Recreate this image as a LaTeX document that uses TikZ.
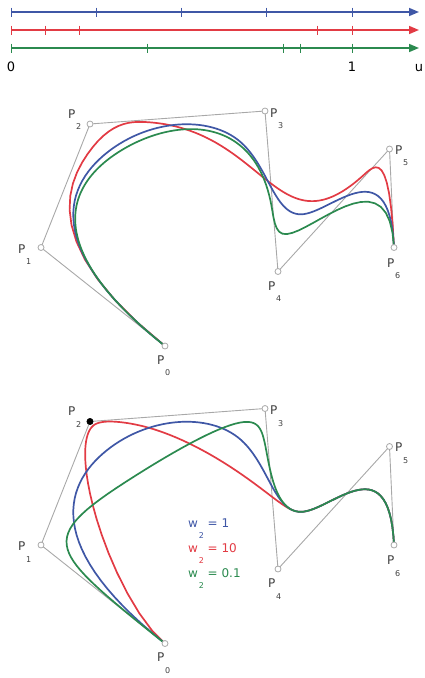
\documentclass[tikz,border=0pt]{standalone}
\usepackage{fontspec}
\setmainfont{DejaVu Sans}
\usepackage{tikz}
\usetikzlibrary{arrows.meta}
\definecolor{knotblue}{HTML}{3F57A6}
\definecolor{knotred}{HTML}{E23B44}
\definecolor{knotgreen}{HTML}{2B8A4F}
\definecolor{polygray}{HTML}{A8A8A8}

\newcommand\sub[1]{\kern0.8pt\raisebox{-11.5pt}{\fontsize{8}{9}\selectfont #1}}

% control polygon in pixels, y pointing down
\def\ptx{{165,41,90,265,278,389.5,394}}
\def\pty{{346,247.5,124,111,271.5,149,247.5}}
\def\wts{{1,1,\wtwo,1,1,1,1}}
\def\knots{{0,0,0,0,\ka,\kb,\kc,1,1,1,1}}

\newcommand\getpt[2]{%
  \pgfmathsetmacro\ww{\wts[#2]}%
  \pgfmathsetmacro\tx{\ptx[#2]}%
  \pgfmathsetmacro\ty{\pty[#2]}%
  \expandafter\pgfmathsetmacro\csname X#1\endcsname{\ww*\tx}%
  \expandafter\pgfmathsetmacro\csname Y#1\endcsname{\ww*\ty}%
  \expandafter\let\csname W#1\endcsname\ww}

\newcommand\mixpt[3]{%
  \pgfmathsetmacro\al{#1}%
  \edef\next{%
    \noexpand\pgfmathsetmacro\expandafter\noexpand\csname X#3\endcsname
      {(1-\al)*\csname X#2\endcsname+\al*\csname X#3\endcsname}%
    \noexpand\pgfmathsetmacro\expandafter\noexpand\csname Y#3\endcsname
      {(1-\al)*\csname Y#2\endcsname+\al*\csname Y#3\endcsname}%
    \noexpand\pgfmathsetmacro\expandafter\noexpand\csname W#3\endcsname
      {(1-\al)*\csname W#2\endcsname+\al*\csname W#3\endcsname}%
  }\next}

% cubic de Boor, homogeneous coordinates
\newcommand\deboor[1]{%
  \pgfmathsetmacro\uu{#1}%
  \pgfmathtruncatemacro\kk{3+(\uu>=\ka)+(\uu>=\kb)+(\uu>=\kc)}%
  \pgfmathsetmacro\sA{\knots[\kk-2]}%
  \pgfmathsetmacro\sB{\knots[\kk-1]}%
  \pgfmathsetmacro\sC{\knots[\kk]}%
  \pgfmathsetmacro\sD{\knots[\kk+1]}%
  \pgfmathsetmacro\sE{\knots[\kk+2]}%
  \pgfmathsetmacro\sF{\knots[\kk+3]}%
  \getpt{a}{\kk-3}\getpt{b}{\kk-2}\getpt{c}{\kk-1}\getpt{d}{\kk}%
  \mixpt{(\uu-\sC)/(\sF-\sC)}{c}{d}%
  \mixpt{(\uu-\sB)/(\sE-\sB)}{b}{c}%
  \mixpt{(\uu-\sA)/(\sD-\sA)}{a}{b}%
  \mixpt{(\uu-\sC)/(\sE-\sC)}{c}{d}%
  \mixpt{(\uu-\sB)/(\sD-\sB)}{b}{c}%
  \mixpt{(\uu-\sC)/(\sD-\sC)}{c}{d}%
  \pgfmathsetmacro\bx{\Xd/\Wd}%
  \pgfmathsetmacro\by{\Yd/\Wd}}

\newcommand\drawspline[6]{% name, colour, knots a b c, w2
  \def\ka{#3}\def\kb{#4}\def\kc{#5}\def\wtwo{#6}%
  \foreach \i in {0,...,120}{%
    \deboor{\i/120}%
    \coordinate (#1\i) at (\bx,\by);
  }
  \draw[curve,#2] (#10) \foreach \i in {1,...,120}{ -- (#1\i)};
}

\begin{document}
\begin{tikzpicture}[x=1pt,y=-1pt,
    axisline/.style={line width=1.6pt,-{Triangle[length=10pt,width=8pt]}},
    knottick/.style={line width=1pt},
    curve/.style={line width=1.7pt,line join=round},
    poly/.style={polygray,line width=0.9pt},
    cpt/.style={circle,draw=polygray,fill=white,line width=0.8pt,minimum size=6pt,inner sep=0pt},
    ptlbl/.style={anchor=base west,inner sep=0pt,font=\fontsize{12}{14}\selectfont,text=black!75},
    wlbl/.style={anchor=base west,inner sep=0pt,font=\fontsize{12}{14}\selectfont}]
  \useasboundingbox (0,0) rectangle (425,678);

  % knot vectors
  \coordinate (ub) at (11,12);  \coordinate (ubend) at (419,12);
  \coordinate (ur) at (11,30);  \coordinate (urend) at (419,30);
  \coordinate (ug) at (11,48);  \coordinate (ugend) at (419,48);
  \draw[axisline,knotblue] (ub) -- (ubend);
  \draw[axisline,knotred] (ur) -- (urend);
  \draw[axisline,knotgreen] (ug) -- (ugend);
  \foreach \t in {0,0.25,0.5,0.75,1}
    \draw[knottick,knotblue] ([shift={(341*\t,-4.5)}]ub) -- ++(0,9);
  \foreach \t in {0,0.1,0.2,0.9,1}
    \draw[knottick,knotred] ([shift={(341*\t,-4.5)}]ur) -- ++(0,9);
  \foreach \t in {0,0.4,0.8,0.85,1}
    \draw[knottick,knotgreen] ([shift={(341*\t,-4.5)}]ug) -- ++(0,9);
  \node[anchor=base,font=\fontsize{13}{15}\selectfont] (lzero) at (11,71) {0};
  \node[anchor=base,font=\fontsize{13}{15}\selectfont] (lone) at (352,71) {1};
  \node[anchor=base,font=\fontsize{13}{15}\selectfont] (lu) at (419,71) {u};

  % B-splines with different knot vectors
  \draw[poly] (165,346) -- (41,247.5) -- (90,124) -- (265,111) -- (278,271.5) -- (389.5,149) -- (394,247.5);
  \drawspline{mr}{knotred}{0.1}{0.2}{0.9}{1}
  \drawspline{mb}{knotblue}{0.25}{0.5}{0.75}{1}
  \drawspline{mg}{knotgreen}{0.4}{0.8}{0.85}{1}
  \foreach \n in {0,...,6}{
    \pgfmathsetmacro\tx{\ptx[\n]}\pgfmathsetmacro\ty{\pty[\n]}
    \node[cpt] (m\n) at (\tx,\ty) {};
  }
  \node[ptlbl] (lm0) at ([shift={(-8,18)}]m0) {P\sub{0}};
  \node[ptlbl] (lm1) at ([shift={(-23,5.5)}]m1) {P\sub{1}};
  \node[ptlbl] (lm2) at ([shift={(-22,-6)}]m2) {P\sub{2}};
  \node[ptlbl] (lm3) at ([shift={(5,6)}]m3) {P\sub{3}};
  \node[ptlbl] (lm4) at ([shift={(-10,18.5)}]m4) {P\sub{4}};
  \node[ptlbl] (lm5) at ([shift={(5.5,5)}]m5) {P\sub{5}};
  \node[ptlbl] (lm6) at ([shift={(-7,19.5)}]m6) {P\sub{6}};

  % NURBS with different weights on P2
  \begin{scope}[yshift=-297.5pt]
    \draw[poly] (165,346) -- (41,247.5) -- (90,124) -- (265,111) -- (278,271.5) -- (389.5,149) -- (394,247.5);
    \drawspline{nr}{knotred}{0.25}{0.5}{0.75}{10}
    \drawspline{nb}{knotblue}{0.25}{0.5}{0.75}{1}
    \drawspline{ng}{knotgreen}{0.25}{0.5}{0.75}{0.1}
    \foreach \n in {0,...,6}{
      \pgfmathsetmacro\tx{\ptx[\n]}\pgfmathsetmacro\ty{\pty[\n]}
      \node[cpt] (w\n) at (\tx,\ty) {};
    }
    \node[cpt,fill=black,draw=black] (w2) at (90,124) {};
    \node[ptlbl] (lw0) at ([shift={(-8,18)}]w0) {P\sub{0}};
    \node[ptlbl] (lw1) at ([shift={(-23,5.5)}]w1) {P\sub{1}};
    \node[ptlbl] (lw2) at ([shift={(-22,-6)}]w2) {P\sub{2}};
    \node[ptlbl] (lw3) at ([shift={(5,6)}]w3) {P\sub{3}};
    \node[ptlbl] (lw4) at ([shift={(-10,18.5)}]w4) {P\sub{4}};
    \node[ptlbl] (lw5) at ([shift={(5.5,5)}]w5) {P\sub{5}};
    \node[ptlbl] (lw6) at ([shift={(-7,19.5)}]w6) {P\sub{6}};
  \end{scope}
  \node[wlbl,knotblue] (wone) at (188,527) {w\sub{2} = 1};
  \node[wlbl,knotred] (wten) at (188,552) {w\sub{2} = 10};
  \node[wlbl,knotgreen] (wtenth) at (188,577) {w\sub{2} = 0.1};
\end{tikzpicture}
\end{document}
